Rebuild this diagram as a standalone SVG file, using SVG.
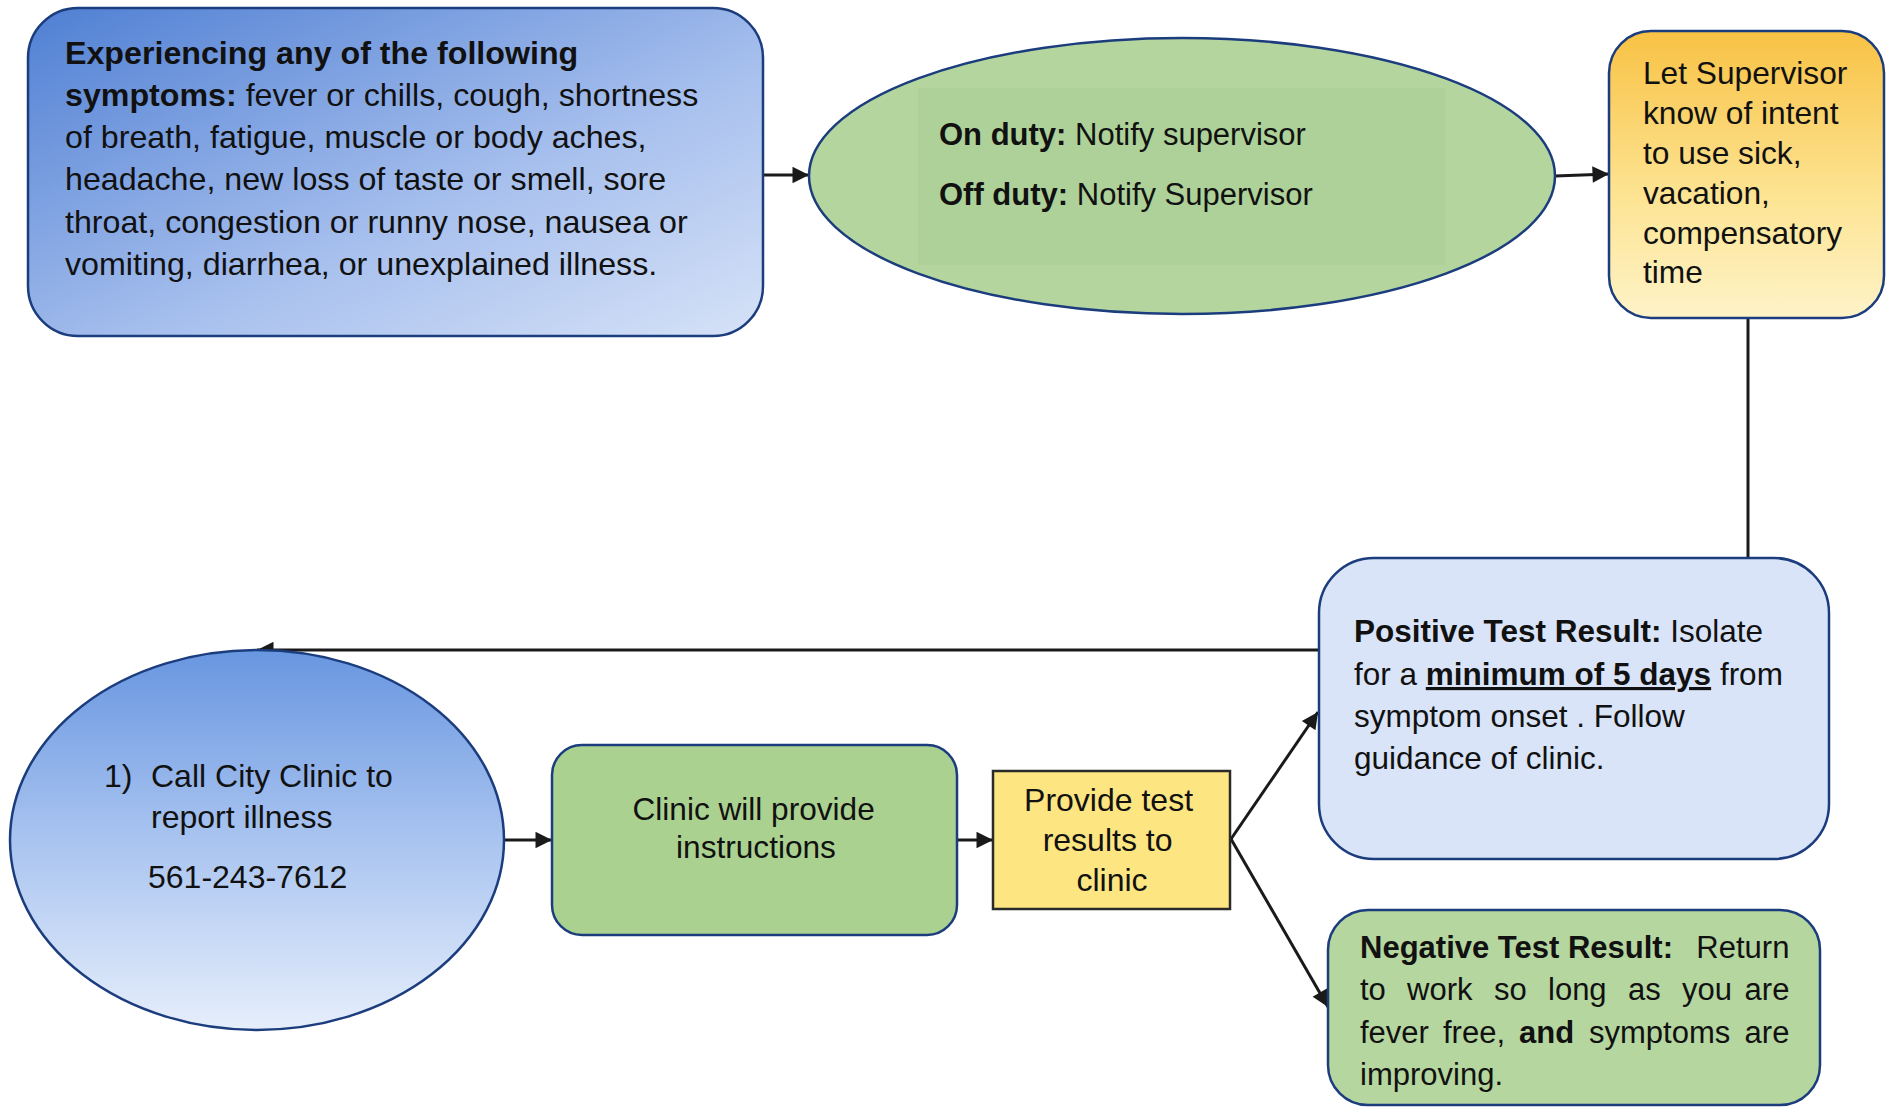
<svg xmlns="http://www.w3.org/2000/svg" width="1890" height="1108" viewBox="0 0 1890 1108">
<style>
text{font-family:"Liberation Sans",Arial,sans-serif;fill:#111}
.b{font-weight:bold}
.node{stroke:#1c3d7d;stroke-width:2.5}
.conn{stroke:#1a1a1a;stroke-width:3;fill:none}
</style>
<defs>
<marker id="arr" viewBox="0 0 10 10" refX="10" refY="5" markerWidth="6" markerHeight="5.5" markerUnits="strokeWidth" orient="auto">
<path d="M0,0 L10,5 L0,10 z" fill="#1a1a1a"/>
</marker>
<linearGradient id="gA" x1="0" y1="0" x2="1" y2="1">
<stop offset="0" stop-color="#4f7fd3"/>
<stop offset="0.6" stop-color="#a9c1ee"/>
<stop offset="1" stop-color="#d6e2f7"/>
</linearGradient>
<linearGradient id="gC" x1="0" y1="0" x2="0" y2="1">
<stop offset="0" stop-color="#f8c244"/>
<stop offset="0.6" stop-color="#fde596"/>
<stop offset="1" stop-color="#fef3c8"/>
</linearGradient>
<linearGradient id="gF" x1="0" y1="0" x2="0" y2="1">
<stop offset="0" stop-color="#6896e0"/>
<stop offset="0.5" stop-color="#a9c4f0"/>
<stop offset="1" stop-color="#e6eefb"/>
</linearGradient>
</defs>

<g id="connectors">
<line class="conn" x1="763" y1="175" x2="809" y2="175" marker-end="url(#arr)"/>
<line class="conn" x1="1555" y1="176" x2="1609" y2="174" marker-end="url(#arr)"/>
<line class="conn" x1="1748" y1="318" x2="1748" y2="558"/>
<line class="conn" x1="1319" y1="650" x2="257" y2="650" marker-end="url(#arr)"/>
<line class="conn" x1="504" y1="840" x2="552" y2="840" marker-end="url(#arr)"/>
<line class="conn" x1="957" y1="840" x2="993" y2="840" marker-end="url(#arr)"/>
<line class="conn" x1="1231" y1="839" x2="1318" y2="712" marker-end="url(#arr)"/>
<line class="conn" x1="1231" y1="839" x2="1328" y2="1007" marker-end="url(#arr)"/>
</g>

<g id="symptoms">
<rect class="node" x="28" y="8" width="735" height="328" rx="50" fill="url(#gA)"/>
<text font-size="32.2">
<tspan x="65" y="64" class="b">Experiencing any of the following</tspan>
<tspan x="65" y="106"><tspan class="b">symptoms:</tspan> fever or chills, cough, shortness</tspan>
<tspan x="65" y="148">of breath, fatigue, muscle or body aches,</tspan>
<tspan x="65" y="190">headache, new loss of taste or smell, sore</tspan>
<tspan x="65" y="233">throat, congestion or runny nose, nausea or</tspan>
<tspan x="65" y="275">vomiting, diarrhea, or unexplained illness.</tspan>
</text>
</g>

<g id="notify">
<ellipse class="node" cx="1182" cy="176" rx="373" ry="138" fill="#b4d59e"/>
<rect x="918" y="88" width="527" height="177" fill="#a8cf94" opacity="0.6"/>
<text font-size="31">
<tspan x="939" y="145"><tspan class="b">On duty:</tspan> Notify supervisor</tspan>
<tspan x="939" y="205"><tspan class="b">Off duty:</tspan> Notify Supervisor</tspan>
</text>
</g>

<g id="letsupervisor">
<rect class="node" x="1609" y="31" width="275" height="287" rx="42" fill="url(#gC)"/>
<text font-size="31.7">
<tspan x="1643" y="84">Let Supervisor</tspan>
<tspan x="1643" y="124">know of intent</tspan>
<tspan x="1643" y="164">to use sick,</tspan>
<tspan x="1643" y="204">vacation,</tspan>
<tspan x="1643" y="244">compensatory</tspan>
<tspan x="1643" y="283">time</tspan>
</text>
</g>

<g id="positive">
<rect class="node" x="1319" y="558" width="510" height="301" rx="55" fill="#d9e4f8"/>
<text font-size="31.5">
<tspan x="1354" y="642"><tspan class="b">Positive Test Result:</tspan> Isolate</tspan>
<tspan x="1354" y="685">for a <tspan class="b" text-decoration="underline">minimum of 5 days</tspan> from</tspan>
<tspan x="1354" y="727">symptom onset . Follow</tspan>
<tspan x="1354" y="769">guidance of clinic.</tspan>
</text>
</g>

<g id="negative">
<rect class="node" x="1328" y="910" width="492" height="195" rx="40" fill="#b5d69f"/>
<text font-size="31">
<tspan x="1360" y="958" class="b">Negative Test Result:</tspan>
<tspan x="1798" y="958" text-anchor="end">Return</tspan>
<tspan x="1360" y="1000">to</tspan><tspan x="1407" y="1000">work</tspan><tspan x="1494" y="1000">so</tspan><tspan x="1548" y="1000">long</tspan><tspan x="1628" y="1000">as</tspan><tspan x="1682" y="1000">you</tspan><tspan x="1798" y="1000" text-anchor="end">are</tspan>
<tspan x="1360" y="1043">fever</tspan><tspan x="1443" y="1043">free,</tspan><tspan x="1519" y="1043" class="b">and</tspan><tspan x="1589" y="1043">symptoms</tspan><tspan x="1798" y="1043" text-anchor="end">are</tspan>
<tspan x="1360" y="1085">improving.</tspan>
</text>
</g>

<g id="callclinic">
<ellipse class="node" cx="257" cy="840" rx="247" ry="190" fill="url(#gF)"/>
<text font-size="32">
<tspan x="104" y="787">1)</tspan><tspan x="151" y="787">Call City Clinic to</tspan>
<tspan x="151" y="828">report illness</tspan>
<tspan x="148" y="888">561-243-7612</tspan>
</text>
</g>

<g id="instructions">
<rect class="node" x="552" y="745" width="405" height="190" rx="30" fill="#abd190"/>
<text font-size="31.6" text-anchor="middle">
<tspan x="758" y="820">Clinic will provide</tspan>
<tspan x="756" y="858">instructions</tspan>
</text>
</g>

<g id="provideresults">
<rect x="993" y="771" width="237" height="138" fill="#fde581" stroke="#2a2a2a" stroke-width="2.5"/>
<text font-size="32" text-anchor="middle">
<tspan x="1113" y="811">Provide test</tspan>
<tspan x="1112" y="851">results to</tspan>
<tspan x="1112" y="891">clinic</tspan>
</text>
</g>
</svg>
